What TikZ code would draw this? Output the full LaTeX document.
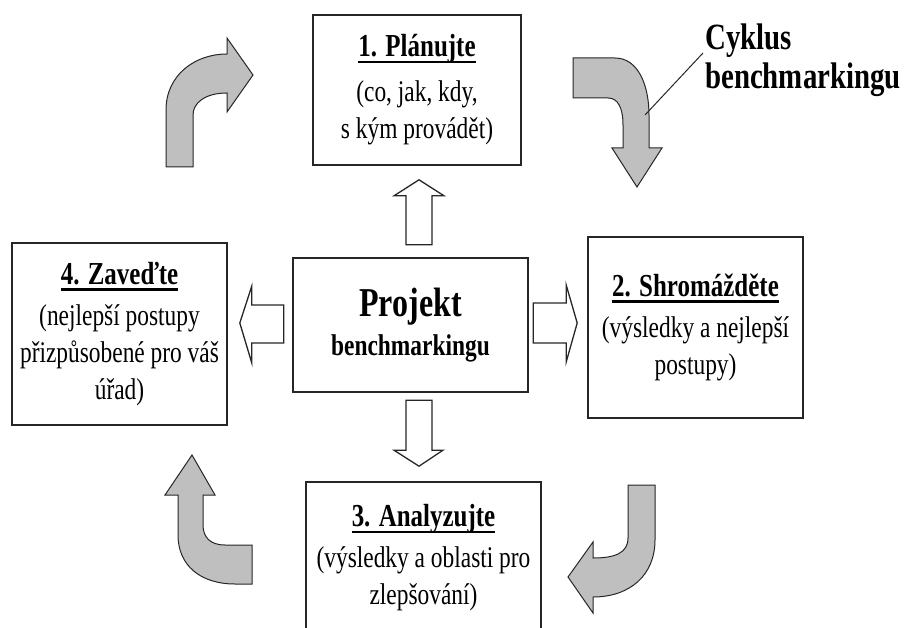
\documentclass[tikz,border=0pt]{standalone}
\usepackage{fontspec}
\setmainfont{Liberation Serif}[FakeStretch=0.78]
\usetikzlibrary{calc}

\newsavebox{\titlebox}
\newcommand{\steptitle}[1]{{\fontsize{32}{37}\selectfont\bfseries
  \sbox{\titlebox}{#1}\rlap{\rule[-6.4pt]{\wd\titlebox}{2.6pt}}\usebox{\titlebox}}}

\begin{document}
\begin{tikzpicture}[x=1pt,y=-1pt,
  box/.style={draw=black!85, line width=1.6pt, fill=white, inner sep=0pt,
    align=center, font=\fontsize{30}{37}\selectfont},
  hollow/.style={draw=black!85, line width=1.3pt, fill=white, line join=miter},
  cycle arrow/.style={draw=black!85, line width=1pt, fill=black!25}]

\useasboundingbox (0,0) rectangle (907,628);

% === Boxes ===
\node[box, minimum width=208pt, minimum height=150pt] (planuj) at (417,90)
  {\steptitle{1. Plánujte}\\[8pt](co, jak, kdy,\\s kým provádět)};
\node[box, minimum width=235pt, minimum height=134pt] (projekt) at (410.5,325)
  {{\fontsize{41}{44}\selectfont\bfseries Projekt}\\[2pt]
   {\fontsize{30}{34}\selectfont\bfseries benchmarkingu}};
\node[box, minimum width=215pt, minimum height=182pt] (zaved) at (119.5,334)
  {\steptitle{4. Zaveďte}\\[4pt](nejlepší postupy\\přizpůsobené pro váš\\úřad)};
\node[box, minimum width=215pt, minimum height=181pt] (shromazd) at (695.5,327.5)
  {\steptitle{2. Shromážděte}\\[4pt](výsledky a nejlepší\\postupy)};
\node[box, minimum width=235pt, minimum height=152pt] (analyz) at (423.5,558)
  {\steptitle{3. Analyzujte}\\[4pt](výsledky a oblasti pro\\zlepšování)};

% === Hollow arrows from the project box ===
% up
\draw[hollow] ($(planuj.south)+(2,14)$) -- ++(25,16) -- ++(-12,0) -- ++(0,49)
  -- ++(-26,0) -- ++(0,-49) -- ++(-12,0) -- cycle;
% down
\draw[hollow] ($(analyz.north)+(-4.5,-15)$) -- ++(24,-16) -- ++(-11,0) -- ++(0,-50)
  -- ++(-26,0) -- ++(0,50) -- ++(-12,0) -- cycle;
% left
\draw[hollow] ($(zaved.east)+(12,-11)$) -- ++(12,-37) -- ++(0,19) -- ++(32,0)
  -- ++(0,38) -- ++(-32,0) -- ++(0,20) -- cycle;
% right
\draw[hollow] ($(shromazd.west)+(-10,-4.5)$) -- ++(-11,-38) -- ++(0,18) -- ++(-33,0)
  -- ++(0,40) -- ++(33,0) -- ++(0,19) -- cycle;

% === Grey cycle arrows ===
% top left
\draw[cycle arrow] (166,167) -- (166,110)
  .. controls (166,75) and (195,54) .. (227,54) -- (227,38) -- (253,75)
  -- (227,112) -- (227,93)
  .. controls (205,93) and (193,103) .. (193,115) -- (193,167) -- cycle;
% top right
\draw[cycle arrow] (573,58) -- (615,58)
  .. controls (638,58) and (649,85) .. (649,115) -- (649,148) -- (662,148)
  -- (637,187) -- (612,148) -- (623,148) -- (623,125)
  .. controls (623,108) and (618,98) .. (608,98) -- (573,98) -- cycle;
% bottom right
\draw[cycle arrow] (628,485) -- (655,485) -- (655,540)
  .. controls (655,575) and (630,597) .. (593,597) -- (593,613) -- (568,577)
  -- (593,542) -- (593,558)
  .. controls (615,558) and (628,553) .. (628,538) -- cycle;
% bottom left
\draw[cycle arrow] (178,495) -- (178,535)
  .. controls (178,565) and (200,584) .. (235,584) -- (252,584) -- (252,545)
  -- (225,545) .. controls (210,545) and (203,537) .. (203,525) -- (203,495)
  -- (215,495) -- (192,455) -- (165,495) -- cycle;

% === Label ===
\node[anchor=west, align=left, inner sep=0pt,
  font=\fontsize{37}{39}\selectfont\bfseries] (cyklus) at (705,60)
  {Cyklus\\benchmarkingu};
\coordinate (cyklustip) at (645,115);
\draw[line width=1pt, black!85] ($(cyklus.west)+(-2,-7)$) -- (cyklustip);

\end{tikzpicture}
\end{document}
